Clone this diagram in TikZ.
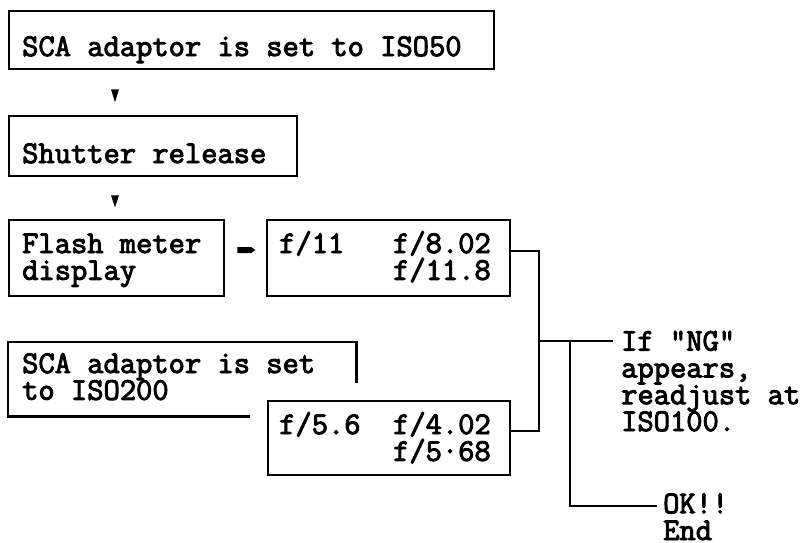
\documentclass[tikz,border=0pt]{standalone}
\usepackage{fontspec}
\usetikzlibrary{calc}
\newfontfamily\typer{Latin Modern Mono}[FakeBold=3]
\newcommand\tightlines{\lineskiplimit=-100pt\relax}
\newcommand\boxfont{\fontsize{31.6}{26.8}\selectfont\typer\tightlines}
\begin{document}
\begin{tikzpicture}[x=1pt,y=-1pt,
  box/.style={draw=black,line width=2.3pt,minimum width=#1,inner sep=0pt,anchor=north west},
  plain/.style={inner sep=0pt,anchor=north west},
  txt/.style={inner sep=0pt,anchor=base west,align=left,font={\boxfont}},
  conn/.style={line width=2.3pt},
  wedge/.style={fill=black,draw=none}]
\useasboundingbox (0,0) rectangle (811,542);
% boxes
\node[box=485pt,minimum height=58pt] (b1) at (8,10) {};
\node[box=288pt,minimum height=60pt] (b2) at (8,115) {};
\node[box=215pt,minimum height=76pt] (b3) at (8,219) {};
\node[box=243pt,minimum height=76pt] (b4) at (266,219) {};
\node[plain,minimum width=348pt,minimum height=74pt] (b5) at (8,342) {};
\node[box=242pt,minimum height=74pt] (b6) at (267,400) {};
\draw[conn] ($(b5.south west)+(242,0)$) -- (b5.south west) -- (b5.north west)
  -- (b5.north east) -- ($(b5.north east)+(0,41)$);
% texts (anchor = baseline of the last line)
\node[txt] (t1) at ($(b1.north west)+(14,46)$) {SCA adaptor is set to ISO50};
\node[txt] (t2) at ($(b2.north west)+(14,48)$) {Shutter release};
\node[txt] (t3) at ($(b3.north west)+(14,60.8)$) {Flash meter\\display};
\node[txt] (t4) at ($(b4.north west)+(13,60.8)$) {f/11\phantom{000}f/8.02\\\phantom{0000000}f/11.8};
\node[txt] (t5) at ($(b5.north west)+(14,57.8)$) {SCA adaptor is set\\to ISO200};
\node[txt] (t6) at ($(b6.north west)+(12,60.8)$) {f/5.6\phantom{00}f/4.02\\\phantom{0000000}f/5·68};
\node[txt] (ng) at (621,431) {If "NG"\\appears,\\readjust at\\ISO100.};
\node[txt] (ok) at (663,540) {OK!!\\End};
% arrowheads between boxes
\fill[wedge] ($(b1.south west)+(103,19)$) -- ++(8,0) -- ++(-4,13) -- cycle;
\fill[wedge] ($(b2.south west)+(103,18)$) -- ++(8,0) -- ++(-4,12) -- cycle;
\fill[wedge] ($(b3.north east)+(12,28)$) -- ++(14,0) -- ++(4,3) -- ++(-4,3) -- ++(-14,0) -- cycle;
% connectors
\coordinate (p4) at ($(b4.north east)+(0,32)$);
\coordinate (p6) at ($(b6.north east)+(0,31)$);
\coordinate (r2) at (539,431);
\coordinate (j) at (539,341);
\coordinate (k) at (570,341);
\coordinate (ngend) at (613,341);
\coordinate (okend) at (657,506);
\draw[conn] (p4) -| (r2) -- (p6);
\draw[conn] (j) -- (ngend);
\draw[conn] (k) |- (okend);
\end{tikzpicture}
\end{document}
